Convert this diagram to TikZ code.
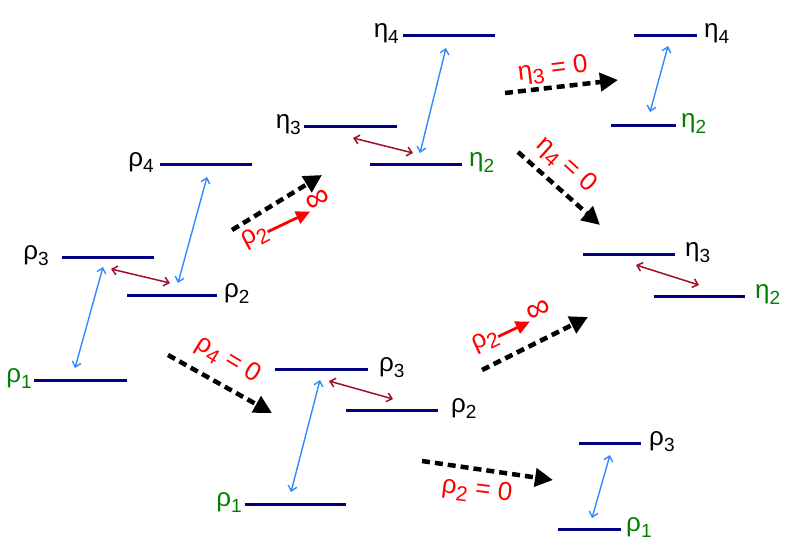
\documentclass[tikz,border=0pt]{standalone}
\usepackage{fontspec}
\setmainfont{Liberation Sans}
\usetikzlibrary{arrows.meta}
\definecolor{lvlblue}{RGB}{0,0,128}
\definecolor{ltblue}{RGB}{51,136,255}
\definecolor{dkred}{RGB}{160,16,40}
\definecolor{grn}{RGB}{0,128,0}
\newcommand\lsub[1]{\raisebox{-6pt}{\fontsize{19}{19}\selectfont #1}}
\newcommand\rsub[1]{\raisebox{-6pt}{\fontsize{21}{21}\selectfont #1}}
\tikzset{
  lvl/.style={draw=lvlblue, line width=3pt},
  lab/.style={font=\fontsize{26}{26}\selectfont, inner sep=1pt, text=black},
  glab/.style={lab, text=grn},
  rlab/.style={font=\fontsize{26}{26}\selectfont, inner sep=0pt, text=red},
  inflab/.style={font=\fontsize{34}{34}\selectfont, inner sep=0pt, text=red},
  barr/.style={draw=ltblue, line width=1.4pt, {Straight Barb[length=5pt,width=9pt]}-{Straight Barb[length=5pt,width=9pt]}},
  rarr/.style={draw=dkred, line width=1.5pt, {Straight Barb[length=5pt,width=9pt]}-{Straight Barb[length=5pt,width=9pt]}},
  darr/.style={draw=black, line width=4.5pt, dash pattern=on 8pt off 5pt, -{Triangle[length=18pt,width=18pt]}},
  infarr/.style={draw=red, line width=2.8pt, -{Triangle[length=14pt,width=13pt]}},
}
\begin{document}
\begin{tikzpicture}[x=1pt,y=1pt]
\useasboundingbox (0,0) rectangle (789,-552);
% ---------- Group A ----------
\coordinate (A4a) at (160,-164); \coordinate (A4b) at (252,-164);
\coordinate (A3a) at (62,-257);  \coordinate (A3b) at (154,-257);
\coordinate (A2a) at (127,-295); \coordinate (A2b) at (217,-295);
\coordinate (A1a) at (34,-380);  \coordinate (A1b) at (127,-380);
\draw[lvl] (A4a) -- (A4b); \draw[lvl] (A3a) -- (A3b);
\draw[lvl] (A2a) -- (A2b); \draw[lvl] (A1a) -- (A1b);
\node[lab, anchor=mid east] (lA4) at (155,-164) {ρ\lsub{4}};
\node[lab, anchor=mid east] (lA3) at (50,-257) {ρ\lsub{3}};
\node[lab, anchor=mid west] (lA2) at (223,-295) {ρ\lsub{2}};
\node[glab, anchor=mid east] (lA1) at (33,-380) {ρ\lsub{1}};
\coordinate (bA1s) at (75,-368); \coordinate (bA1e) at (103,-267);
\draw[barr] (bA1s) -- (bA1e);
\coordinate (bA2s) at (178,-283); \coordinate (bA2e) at (207,-177);
\draw[barr] (bA2s) -- (bA2e);
\coordinate (rAs) at (111,-269); \coordinate (rAe) at (170,-283);
\draw[rarr] (rAs) -- (rAe);
% ---------- Group B ----------
\coordinate (B4a) at (403,-35);  \coordinate (B4b) at (495,-35);
\coordinate (B3a) at (304,-126); \coordinate (B3b) at (397,-126);
\coordinate (B2a) at (370,-164); \coordinate (B2b) at (462,-164);
\draw[lvl] (B4a) -- (B4b); \draw[lvl] (B3a) -- (B3b); \draw[lvl] (B2a) -- (B2b);
\node[lab, anchor=mid east] (lB4) at (400,-35) {η\lsub{4}};
\node[lab, anchor=mid east] (lB3) at (302,-126) {η\lsub{3}};
\node[glab, anchor=mid west] (lB2) at (468,-164) {η\lsub{2}};
\coordinate (bBs) at (420,-153); \coordinate (bBe) at (446,-48);
\draw[barr] (bBs) -- (bBe);
\coordinate (rBs) at (353,-138); \coordinate (rBe) at (413,-153);
\draw[rarr] (rBs) -- (rBe);
% ---------- Group C ----------
\coordinate (C4a) at (634,-35);  \coordinate (C4b) at (697,-35);
\coordinate (C2a) at (611,-125); \coordinate (C2b) at (676,-125);
\draw[lvl] (C4a) -- (C4b); \draw[lvl] (C2a) -- (C2b);
\node[lab, anchor=mid west] (lC4) at (703,-35) {η\lsub{4}};
\node[glab, anchor=mid west] (lC2) at (680,-125) {η\lsub{2}};
\coordinate (bCs) at (650,-112); \coordinate (bCe) at (668,-46);
\draw[barr] (bCs) -- (bCe);
% ---------- Group D ----------
\coordinate (D3a) at (583,-254); \coordinate (D3b) at (675,-254);
\coordinate (D2a) at (654,-296); \coordinate (D2b) at (745,-296);
\draw[lvl] (D3a) -- (D3b); \draw[lvl] (D2a) -- (D2b);
\node[lab, anchor=mid west] (lD3) at (684,-254) {η\lsub{3}};
\node[glab, anchor=mid west] (lD2) at (754,-296) {η\lsub{2}};
\coordinate (rDs) at (636,-265); \coordinate (rDe) at (699,-285);
\draw[rarr] (rDs) -- (rDe);
% ---------- Group E ----------
\coordinate (E3a) at (275,-369); \coordinate (E3b) at (368,-369);
\coordinate (E2a) at (346,-410); \coordinate (E2b) at (438,-410);
\coordinate (E1a) at (245,-504); \coordinate (E1b) at (346,-504);
\draw[lvl] (E3a) -- (E3b); \draw[lvl] (E2a) -- (E2b); \draw[lvl] (E1a) -- (E1b);
\node[lab, anchor=mid west] (lE3) at (378,-369) {ρ\lsub{3}};
\node[lab, anchor=mid west] (lE2) at (450,-410) {ρ\lsub{2}};
\node[glab, anchor=mid east] (lE1) at (243,-504) {ρ\lsub{1}};
\coordinate (bEs) at (291,-492); \coordinate (bEe) at (320,-380);
\draw[barr] (bEs) -- (bEe);
\coordinate (rEs) at (329,-381); \coordinate (rEe) at (393,-399);
\draw[rarr] (rEs) -- (rEe);
% ---------- Group F ----------
\coordinate (F3a) at (579,-443); \coordinate (F3b) at (641,-443);
\coordinate (F1a) at (558,-529); \coordinate (F1b) at (621,-529);
\draw[lvl] (F3a) -- (F3b); \draw[lvl] (F1a) -- (F1b);
\node[lab, anchor=mid west] (lF3) at (648,-443) {ρ\lsub{3}};
\node[glab, anchor=mid west] (lF1) at (625,-529) {ρ\lsub{1}};
\coordinate (bFs) at (592,-518); \coordinate (bFe) at (610,-455);
\draw[barr] (bFs) -- (bFe);
% ---------- transition arrows ----------
\coordinate (d1s) at (232,-230); \coordinate (d1e) at (322,-175);
\coordinate (d2s) at (168,-355); \coordinate (d2e) at (272,-413);
\coordinate (d3s) at (505,-93);  \coordinate (d3e) at (618,-80);
\coordinate (d4s) at (518,-152); \coordinate (d4e) at (600,-225);
\coordinate (d5s) at (482,-370); \coordinate (d5e) at (588,-317);
\coordinate (d6s) at (422,-461); \coordinate (d6e) at (553,-480);
\draw[darr] (d1s) -- (d1e);
\draw[darr] (d2s) -- (d2e);
\draw[darr] (d3s) -- (d3e);
\draw[darr] (d4s) -- (d4e);
\draw[darr] (d5s) -- (d5e);
\draw[darr] (d6s) -- (d6e);
% ---------- red labels ----------
\node[rlab, rotate=-31] (t2) at (228,-360) {ρ\rsub{4} = 0};
\node[rlab, rotate=7] (t3) at (553,-70) {η\rsub{3} = 0};
\node[rlab, rotate=-42] (t4) at (566,-165) {η\rsub{4} = 0};
\node[rlab, rotate=-7] (t6) at (477,-491) {ρ\rsub{2} = 0};
\begin{scope}[shift={(286,-224)}, rotate=23]
  \node[rlab, anchor=mid east, rotate=28] (t1a) at (-20,0) {ρ\rsub{2}};
  \node[inflab, anchor=mid west, rotate=28] (t1b) at (27,2) {∞};
  \draw[infarr] (t1a.mid east) -- (t1b.mid west);
\end{scope}
\begin{scope}[shift={(512,-331)}, rotate=22]
  \node[rlab, anchor=mid east, rotate=25] (t5a) at (-15,0) {ρ\rsub{2}};
  \node[inflab, anchor=mid west, rotate=25] (t5b) at (20,2) {∞};
  \draw[infarr] (t5a.mid east) -- (t5b.mid west);
\end{scope}
\end{tikzpicture}
\end{document}
